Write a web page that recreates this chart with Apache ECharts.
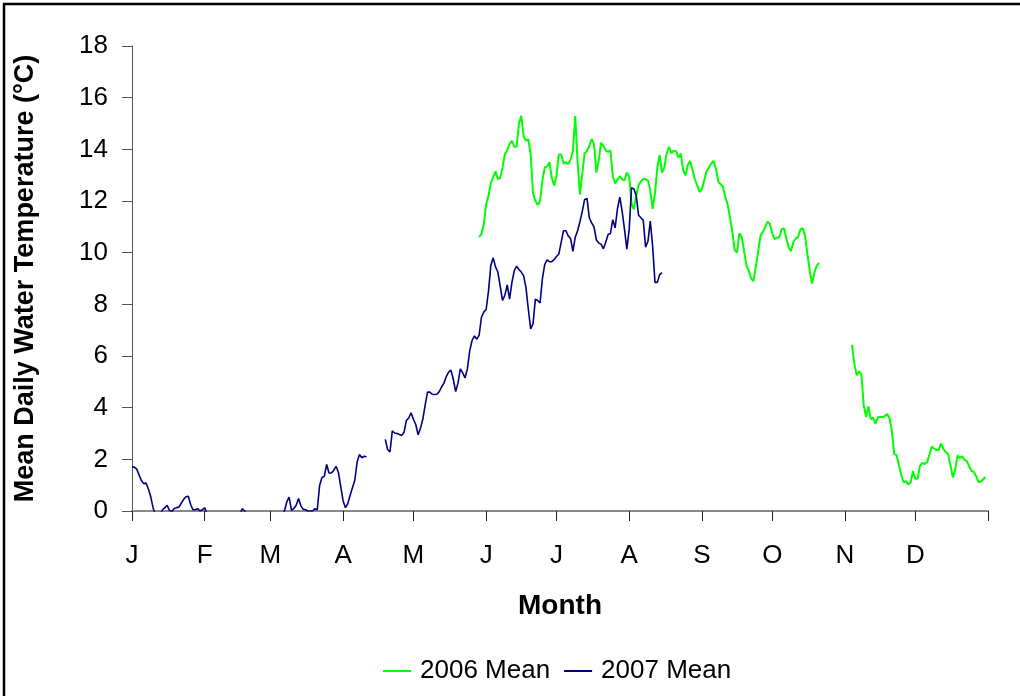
<!DOCTYPE html>
<html>
<head>
<meta charset="utf-8">
<script src="https://cdn.jsdelivr.net/npm/echarts@6/dist/echarts.min.js"></script>
<style>html,body{margin:0;padding:0;background:#fff}#c{width:1020px;height:696px}</style>
</head>
<body>
<div id="c"></div>
<script>
// Month ticks (day of year, Jan 1 = 0)
const monthStartDays = [0, 31, 59, 90, 120, 151, 181, 212, 243, 273, 304, 334];
const monthTickDays = [0, 31, 59, 90, 120, 151, 181, 212, 243, 273, 304, 334, 365];
const monthLabels = ['J', 'F', 'M', 'A', 'M', 'J', 'J', 'A', 'S', 'O', 'N', 'D'];
const yTicks = [0, 2, 4, 6, 8, 10, 12, 14, 16, 18];

// 2007 mean, first segment starting day 0
const start2007a = 0;
const temp2007a = [
  1.70, 1.70, 1.62, 1.40, 1.18, 1.06, 1.08, 0.85, 0.55, 0.12,
  -0.15, -0.15, -0.15, 0.05, 0.12, 0.22, 0.02, -0.02, 0.10, 0.13,
  0.15, 0.30, 0.45, 0.55, 0.57, 0.25, 0.05, 0.05, 0.09, 0.00,
  0.05, 0.12, -0.10,
  -0.15, -0.15, -0.15, -0.15, -0.15, -0.15, -0.15, -0.15, -0.15, -0.15, -0.15, -0.15, -0.15, -0.15,
  0.09, 0.00,
  -0.15, -0.15, -0.15, -0.15, -0.15, -0.15, -0.15, -0.15, -0.15, -0.15, -0.15, -0.15, -0.15, -0.15, -0.15, -0.15,
  0.00, 0.35, 0.54, 0.02, 0.10, 0.22, 0.48, 0.20, 0.07, 0.05,
  0.00, 0.00, 0.00, 0.09, 0.05, 0.99, 1.30, 1.34, 1.80, 1.47,
  1.47, 1.57, 1.73, 1.50, 0.95, 0.40, 0.13, 0.28, 0.60, 0.90,
  1.19, 1.90, 2.19, 2.06, 2.12, 2.10
];
// 2007 mean, second segment starting day 108
const start2007b = 108;
const temp2007b = [
  2.77, 2.38, 2.29, 3.10, 3.02, 3.00, 2.96, 2.92, 3.05, 3.50,
  3.60, 3.80, 3.55, 3.35, 2.95, 3.20, 3.55, 4.10, 4.60, 4.60,
  4.52, 4.51, 4.52, 4.62, 4.80, 4.95, 5.20, 5.38, 5.45, 5.10,
  4.62, 4.95, 5.50, 5.35, 5.15, 5.50, 6.20, 6.60, 6.78, 6.65,
  6.80, 7.50, 7.70, 7.80, 8.50, 9.50, 9.80, 9.45, 9.25, 8.70,
  8.15, 8.35, 8.75, 8.20, 8.85, 9.30, 9.48, 9.35, 9.25, 9.10,
  8.65, 7.80, 7.05, 7.25, 8.20, 8.15, 8.05, 9.00, 9.55, 9.72,
  9.65, 9.65, 9.73, 9.85, 9.95, 10.40, 10.85, 10.85, 10.65, 10.55,
  10.05, 10.60, 10.85, 11.20, 11.60, 12.06, 12.10, 11.35, 11.15, 11.00,
  10.50, 10.37, 10.33, 10.15, 10.40, 10.70, 10.74, 11.28, 10.96, 11.70,
  12.15, 11.60, 10.90, 10.14, 10.90, 12.51, 12.47, 12.20, 11.45, 11.35,
  11.25, 10.21, 10.44, 11.22, 10.25, 8.85, 8.85, 9.15, 9.23
];
// 2006 mean, first segment starting day 148
const start2006a = 148;
const temp2006a = [
  10.60, 10.72, 11.10, 11.85, 12.20, 12.70, 12.90, 13.15, 12.85, 12.90,
  13.30, 13.80, 13.98, 14.20, 14.34, 14.10, 14.10, 15.00, 15.30, 14.50,
  14.34, 14.39, 13.80, 12.30, 12.00, 11.85, 12.00, 12.80, 13.30, 13.34,
  13.50, 12.90, 12.60, 13.00, 13.80, 13.80, 13.45, 13.50, 13.42, 13.60,
  13.92, 15.30, 13.50, 12.25, 13.05, 13.85, 13.93, 14.13, 14.40, 14.20,
  13.10, 13.55, 14.25, 14.13, 13.95, 13.90, 13.96, 12.96, 12.68, 12.83,
  12.96, 12.84, 12.80, 13.10, 12.95, 11.90, 11.68, 12.20, 12.62, 12.75,
  12.86, 12.84, 12.80, 12.40, 11.70, 12.30, 13.30, 13.78, 13.10, 13.30,
  13.85, 14.10, 13.85, 13.95, 13.93, 13.68, 13.84, 13.20, 12.99, 13.40,
  13.55, 13.20, 12.85, 12.60, 12.35, 12.45, 12.80, 13.15, 13.30, 13.45,
  13.55, 13.25, 12.75, 12.65, 12.55, 12.15, 11.85, 11.35, 10.80, 10.10,
  10.00, 10.75, 10.60, 10.05, 9.50, 9.30, 9.00, 8.90, 9.45, 10.05,
  10.65, 10.80, 11.00, 11.20, 11.12, 10.75, 10.52, 10.58, 10.60, 10.90,
  10.95, 10.55, 10.20, 10.06, 10.40, 10.55, 10.60, 10.90, 10.95, 10.65,
  9.95, 9.30, 8.80, 9.25, 9.50, 9.60
];
// 2006 mean, second segment starting day 307
const start2006b = 307;
const temp2006b = [
  6.43, 5.70, 5.25, 5.40, 5.30, 4.10, 3.65, 4.05, 3.55, 3.62,
  3.38, 3.62, 3.64, 3.64, 3.67, 3.75, 3.60, 3.10, 2.20, 2.17,
  1.78, 1.40, 1.10, 1.16, 1.03, 1.10, 1.55, 1.25, 1.25, 1.75,
  1.86, 1.82, 1.88, 2.18, 2.50, 2.42, 2.36, 2.36, 2.62, 2.40,
  2.28, 2.20, 1.75, 1.30, 1.60, 2.15, 2.05, 2.12, 1.98, 1.93,
  1.72, 1.55, 1.51, 1.33, 1.12, 1.14, 1.24, 1.31
];

function buildSegments(segs) {
  const out = [];
  segs.forEach(function (s, k) {
    if (k > 0) out.push([s[0] - 0.5, null]);
    s[1].forEach(function (v, i) { out.push([s[0] + i, v]); });
  });
  return out;
}
const data2006 = buildSegments([[start2006a, temp2006a], [start2006b, temp2006b]]);
const data2007 = buildSegments([[start2007a, temp2007a], [start2007b, temp2007b]]);

const FONT = 'Liberation Sans, Arial, sans-serif';
const chart = echarts.init(document.getElementById('c'), null, { renderer: 'canvas' });
chart.setOption({
  animation: false,
  backgroundColor: '#ffffff',
  grid: { left: 132, right: 32, top: 46, bottom: 185, containLabel: false },
  graphic: [{
    type: 'polyline',
    shape: { points: [[4, 700], [4, 4], [1024, 4]] },
    style: { stroke: '#000', lineWidth: 2.5, fill: null },
    silent: true
  }],
  legend: {
    data: [
      { name: '2006 Mean', icon: 'rect', itemStyle: { color: '#00ff00' } },
      { name: '2007 Mean', icon: 'rect', itemStyle: { color: '#000080' } }
    ],
    bottom: 12,
    left: 383,
    padding: 0,
    itemWidth: 28,
    itemHeight: 2,
    itemGap: 14,
    textStyle: { fontFamily: FONT, fontSize: 26, color: '#000', padding: [0, 0, 0, 4] }
  },
  xAxis: {
    type: 'value',
    min: 0,
    max: 365,
    name: 'Month',
    nameLocation: 'middle',
    nameGap: 81,
    nameTextStyle: { fontFamily: FONT, fontSize: 28, fontWeight: 'bold', color: '#000' },
    axisLine: { show: true, onZero: false, lineStyle: { color: '#888', width: 2 } },
    axisTick: { show: true, customValues: monthTickDays, length: 10, lineStyle: { color: '#222', width: 1 } },
    axisLabel: {
      customValues: monthStartDays,
      formatter: function (v) { const i = monthStartDays.indexOf(v); return i >= 0 ? monthLabels[i] : ''; },
      fontFamily: FONT, fontSize: 26, color: '#000', margin: 32
    },
    splitLine: { show: false }
  },
  yAxis: {
    type: 'value',
    min: yTicks[0],
    max: yTicks[yTicks.length - 1],
    interval: 2,
    name: 'Mean Daily Water Temperature (°C)',
    nameLocation: 'middle',
    nameGap: 93,
    nameTextStyle: { fontFamily: FONT, fontSize: 27, fontWeight: 'bold', color: '#000' },
    axisLine: { show: true, lineStyle: { color: '#555', width: 1 } },
    axisTick: { show: true, length: 10, lineStyle: { color: '#555', width: 1 } },
    axisLabel: { fontFamily: FONT, fontSize: 26, color: '#000', margin: 24 },
    splitLine: { show: false }
  },
  series: [
    {
      name: '2006 Mean', type: 'line', data: data2006, showSymbol: false, symbol: 'none',
      connectNulls: false, clip: true,
      lineStyle: { color: '#00ff00', width: 2 }, itemStyle: { color: '#00ff00' }
    },
    {
      name: '2007 Mean', type: 'line', data: data2007, showSymbol: false, symbol: 'none',
      connectNulls: false, clip: true,
      lineStyle: { color: '#000080', width: 1.6 }, itemStyle: { color: '#000080' }
    }
  ]
});
</script>
</body>
</html>
